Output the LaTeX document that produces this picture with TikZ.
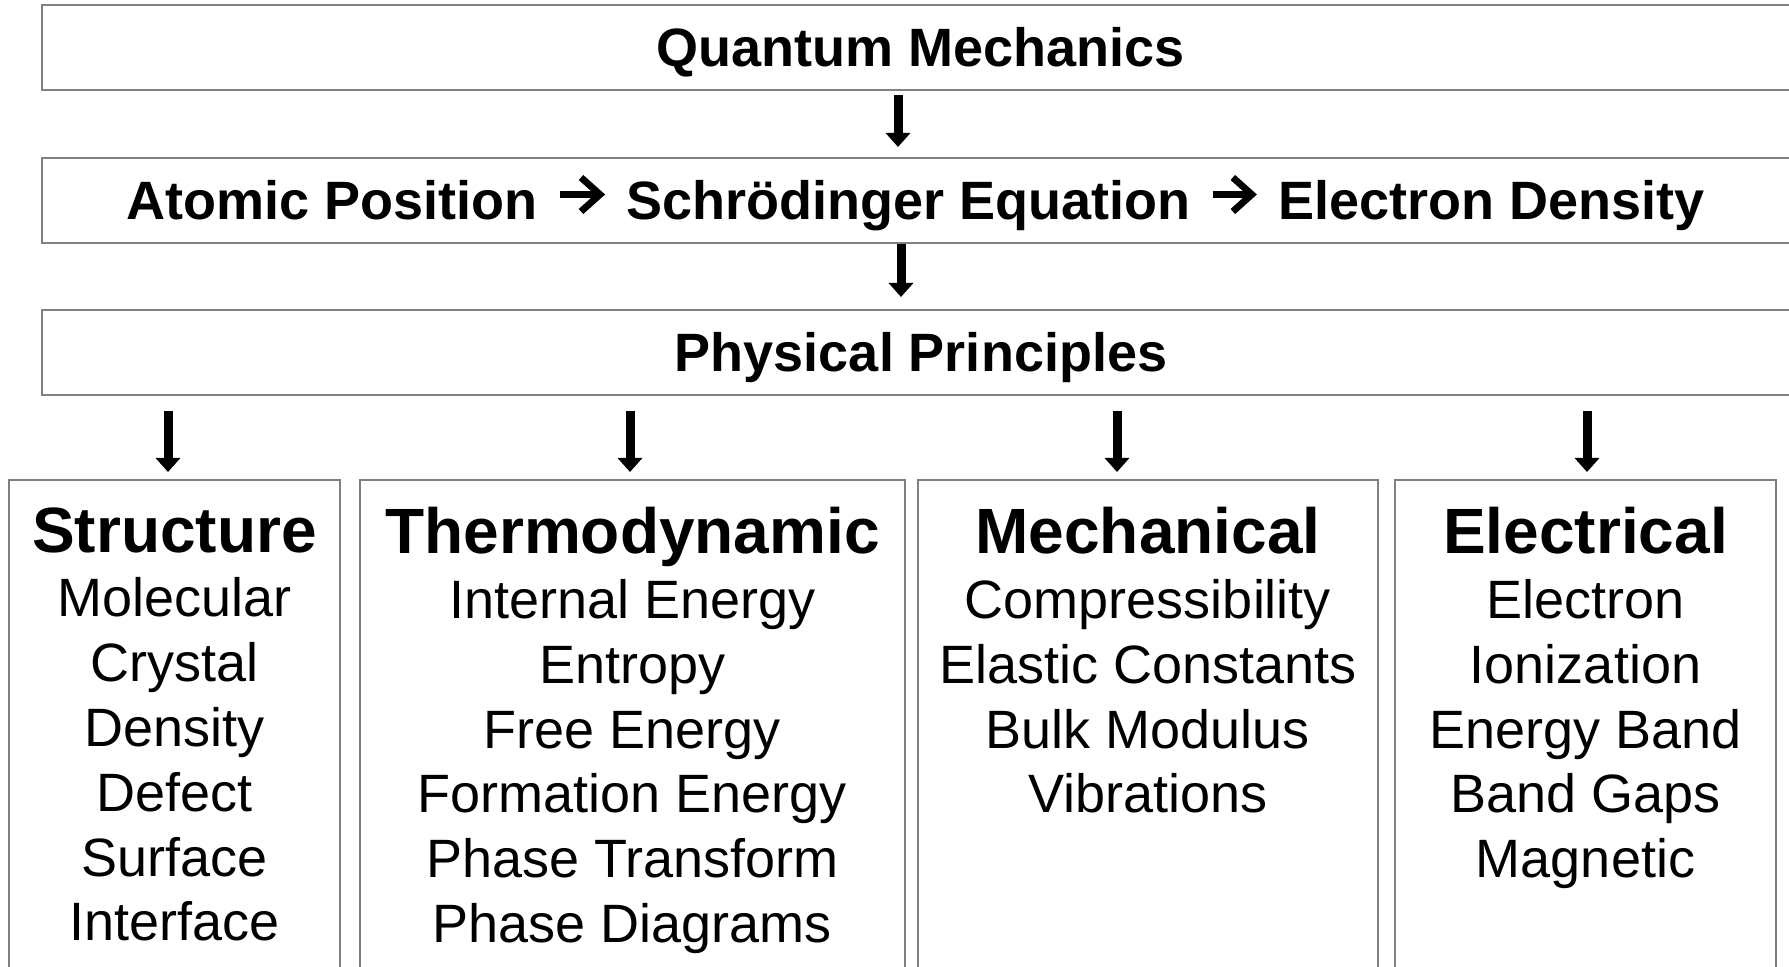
\documentclass[tikz,border=0pt]{standalone}
\usepackage{fontspec}
\setmainfont{Liberation Sans}
\usetikzlibrary{arrows.meta,positioning}
\definecolor{boxGray}{HTML}{808080}
\newcommand{\colhead}[1]{{\fontsize{32}{32.4}\selectfont\bfseries #1}}

\begin{document}
\begin{tikzpicture}[x=0.5pt,y=-0.5pt]
  \tikzset{
    band/.style={draw=boxGray,line width=1pt,minimum width=879pt,minimum height=42.5pt,inner sep=0pt,
      text height=19.5pt,text depth=0pt,font=\fontsize{27}{32.4}\selectfont\bfseries},
    bandtext/.style={inner sep=0pt,text height=19.5pt,text depth=0pt,font=\fontsize{27}{32.4}\selectfont\bfseries},
    column/.style={draw=boxGray,line width=1pt,minimum height=262pt,anchor=north,inner sep=0pt},
    items/.style={anchor=north,inner sep=0pt,align=center,font=\fontsize{27}{32.4}\selectfont},
    flow/.style={line width=4.5pt,-{Triangle[width=12pt,length=7pt]}},
    chevron/.style={line width=3.4pt,-{Straight Barb[length=9.5pt,width=17pt]},shorten <=11pt,shorten >=10.5pt}
  }
  \useasboundingbox (0,0) rectangle (1789,967);

  \node[band] (qm) at (921,47.5) {Quantum Mechanics};
  \node[band] (aps) at (921,200.5) {};
  \node[bandtext] (schr) at (908.5,200.5) {Schrödinger Equation};
  \node[bandtext,left=44pt of schr] (apos) {Atomic Position};
  \node[bandtext,right=43.5pt of schr] (eden) {Electron Density};
  \node[band] (pp) at (921,352.5) {Physical Principles};

  \draw[chevron] ([yshift=3pt]apos.east) -- ([yshift=3pt]schr.west);
  \draw[chevron] ([yshift=3pt]schr.east) -- ([yshift=3pt]eden.west);

  \node[column,minimum width=165.5pt] (sbox) at (174.5,479) {};
  \node[column,minimum width=272.5pt] (tbox) at (632.5,479) {};
  \node[column,minimum width=230pt] (mbox) at (1148,479) {};
  \node[column,minimum width=190.5pt] (ebox) at (1585.5,479) {};

  \node[items] (stext) at (174.5,507)
    {\colhead{Structure}\\Molecular\\Crystal\\Density\\Defect\\Surface\\Interface};
  \node[items] (ttext) at (632.5,507)
    {\colhead{Thermodynamic}\\Internal Energy\\Entropy\\Free Energy\\Formation Energy\\Phase Transform\\Phase Diagrams};
  \node[items] (mtext) at (1148,507)
    {\colhead{Mechanical}\\Compressibility\\Elastic Constants\\Bulk Modulus\\Vibrations};
  \node[items] (etext) at (1585.5,507)
    {\colhead{Electrical}\\Electron\\Ionization\\Energy Band\\Band Gaps\\Magnetic};

  \draw[flow,shorten <=2pt,shorten >=5pt] ([xshift=-11.5pt]qm.south) -- ([xshift=-11.5pt]qm.south |- aps.north);
  \draw[flow,shorten >=6pt] ([xshift=-10pt]aps.south) -- ([xshift=-10pt]aps.south |- pp.north);
  \foreach \col/\dx in {sbox/-3.25pt,tbox/-1.25pt,mbox/-15.5pt,ebox/0.75pt}
    {\draw[flow,shorten <=7.5pt,shorten >=3.5pt] ([xshift=\dx]\col.north |- pp.south) -- ([xshift=\dx]\col.north);}
\end{tikzpicture}
\end{document}
